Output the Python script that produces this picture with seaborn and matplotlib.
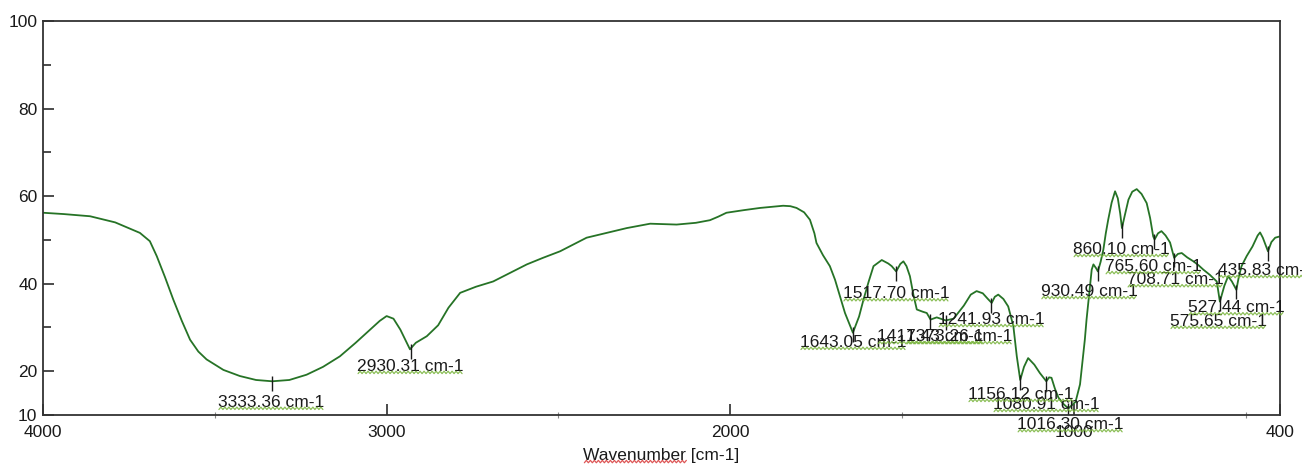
"""
FTIR transmittance spectrum with peak annotations (OMNIC-style screenshot look).
"""
import numpy as np
import pandas as pd
import matplotlib
matplotlib.use("Agg")
import matplotlib.pyplot as plt
from matplotlib.lines import Line2D
from matplotlib.transforms import IdentityTransform
import seaborn as sns

# ==========================================
# DATA
# ==========================================
WAVENUMBER = [
    4000, 3940, 3863, 3790, 3718, 3689, 3669, 3645, 3621, 3596, 3572, 3548, 3524,
    3475, 3427, 3380, 3333, 3283, 3233, 3185, 3136, 3090, 3048, 3020, 3000, 2980,
    2960, 2932, 2915, 2883, 2850, 2820, 2786, 2740, 2690, 2640, 2592, 2545, 2495,
    2455, 2418, 2360, 2301, 2233, 2156, 2100, 2059, 2035, 2011, 1960, 1913, 1846,
    1825, 1807, 1785, 1768, 1755, 1749, 1730, 1710, 1695, 1680, 1666, 1643, 1625,
    1612, 1597, 1583, 1559, 1540, 1530, 1517, 1505, 1496, 1487, 1477, 1467, 1457,
    1440, 1428, 1417, 1399, 1373, 1350, 1320, 1300, 1283, 1265, 1250, 1239, 1230,
    1220, 1205, 1191, 1176, 1166, 1156, 1145, 1133, 1115, 1099, 1080, 1072, 1065,
    1055, 1045, 1030, 1016, 995, 982, 975, 968, 963, 955, 948, 943, 935, 930,
    922, 914, 907, 900, 890, 880, 872, 865, 860, 852, 841, 830, 817, 803, 788,
    778, 769, 765, 755, 745, 733, 720, 708, 697, 686, 670, 652, 637, 623, 604,
    584, 575, 562, 551, 540, 527, 520, 512, 497, 480, 465, 458, 450, 435, 425,
    414, 400,
]
TRANSMITTANCE = [
    56.2, 55.9, 55.4, 54.0, 51.6, 49.7, 46.3, 41.5, 36.4, 31.5, 27.2, 24.5, 22.7,
    20.3, 18.9, 18.0, 17.7, 18.0, 19.2, 21.0, 23.4, 26.5, 29.5, 31.5, 32.6, 32.0,
    29.5, 25.0, 26.5, 28.0, 30.5, 34.5, 37.9, 39.3, 40.5, 42.5, 44.4, 45.9, 47.4,
    49.0, 50.5, 51.6, 52.7, 53.7, 53.5, 53.9, 54.5, 55.3, 56.2, 56.8, 57.3, 57.8,
    57.7, 57.3, 56.3, 54.6, 51.5, 49.3, 46.5, 44.0, 40.9, 37.0, 33.3, 28.8, 32.5,
    36.4, 40.5, 44.0, 45.4, 44.6, 44.0, 42.8, 44.5, 45.1, 44.0, 41.7, 37.5, 34.1,
    33.6, 33.3, 31.8, 32.3, 31.6, 32.0, 35.0, 37.5, 38.3, 37.8, 36.5, 35.6, 37.0,
    37.5, 36.5, 34.8, 30.3, 23.4, 18.0, 21.0, 23.0, 21.5, 19.6, 17.7, 18.6, 18.5,
    16.0, 14.0, 12.5, 11.5, 13.0, 17.0, 22.0, 27.2, 31.8, 38.0, 43.2, 44.4, 43.5, 42.8,
    45.0, 47.8, 51.5, 54.6, 58.5, 61.1, 59.5, 56.0, 52.7, 55.5, 59.2, 61.0, 61.6, 60.5, 58.4,
    55.0, 50.8, 50.1, 51.5, 52.0, 51.0, 49.4, 45.9, 46.8, 47.0, 46.0, 45.1, 44.2, 43.2, 42.0,
    40.5, 35.9, 39.5, 41.7, 40.5, 38.6, 41.5, 44.0, 46.3, 48.5, 51.0, 51.7, 50.5, 47.4, 49.5,
    50.5, 50.8,
]

# picked peaks: position, transmittance at the peak, label text
PEAK_WN = [3333.36, 2930.31, 1643.05, 1517.70, 1417.43, 1373.26, 1241.93, 1156.12,
           1080.91, 1016.30, 930.49, 860.10, 765.60, 708.71, 575.65, 527.44, 435.83]
PEAK_T = [17.7, 25.0, 28.8, 42.8, 31.8, 31.6, 35.6, 18.0,
          17.7, 11.5, 42.8, 52.7, 50.1, 45.9, 35.9, 38.6, 47.4]
PEAK_LABELS = [f"{w:.2f} cm-1" for w in PEAK_WN]

# where the software dropped each label (left edge wavenumber, centre %T)
LABEL_POS = [(3491, 12.9), (3086, 21.1), (1797, 26.6), (1672, 37.7), (1573, 27.9),
             (1488, 27.9), (1395, 31.8), (1308, 14.7), (1235, 12.4), (1165, 7.8),
             (1096, 38.2), (1002, 47.8), (909, 43.9), (845, 40.9), (720, 31.4),
             (668, 34.5), (580, 43.0)]

X_MAJOR = [4000, 3000, 2000, 1000, 400]
X_MINOR = [3500, 2500, 1500, 500]
Y_MAJOR = [10, 20, 40, 60, 80, 100]
Y_MINOR = [30, 50, 70, 90]

LINE_COLOR = "#267326"
INK = "#1a1a1a"


def squiggle(fig, x0, x1, y, color):
    """Word-style wavy underline in figure pixels."""
    xs = np.arange(x0, x1 + 1, 2.0)
    ys = y + np.where(np.arange(len(xs)) % 2 == 0, -1.2, 1.2)
    fig.add_artist(Line2D(xs, ys, transform=IdentityTransform(),
                          color=color, lw=0.9, alpha=0.85))


def main():
    sns.set_theme(style="ticks")
    plt.rcParams["font.family"] = ["Liberation Sans", "DejaVu Sans"]
    plt.rcParams["font.size"] = 12.5

    df = pd.DataFrame({"Wavenumber": WAVENUMBER, "T": TRANSMITTANCE})

    fig = plt.figure(figsize=(13.02, 4.68), dpi=100)
    ax = fig.add_axes([43 / 1302, 1 - 415 / 468, 1237 / 1302, 394 / 468])

    sns.lineplot(data=df, x="Wavenumber", y="T", sort=False, color=LINE_COLOR,
                 lw=1.3, ax=ax)

    ax.set_xlim(4000, 400)
    ax.set_ylim(10, 100)
    ax.set_xticks(X_MAJOR)
    ax.set_xticks(X_MINOR, minor=True)
    ax.set_yticks(Y_MAJOR)
    ax.set_yticks(Y_MINOR, minor=True)
    ax.set_xticklabels([str(v) for v in X_MAJOR])
    ax.set_yticklabels([str(v) for v in Y_MAJOR])
    ax.tick_params(axis="both", which="major", direction="in", length=8,
                   width=1.1, colors=INK, labelsize=12.5)
    ax.tick_params(axis="y", which="major", pad=4)
    ax.tick_params(axis="x", which="major", pad=7)
    ax.tick_params(axis="y", which="minor", direction="in", length=6, width=1.1,
                   colors=INK)
    ax.tick_params(axis="x", which="minor", direction="inout", length=5, width=0.8,
                   colors="#888888")
    for sp in ax.spines.values():
        sp.set_visible(True)
        sp.set_color("#333333")
        sp.set_linewidth(1.3)

    ax.set_xlabel("Wavenumber [cm-1]", fontsize=12.5, color=INK, labelpad=6)
    ax.set_ylabel("")

    # peak markers and labels
    texts = []
    for wn, t, lab, (lx, ly) in zip(PEAK_WN, PEAK_T, PEAK_LABELS, LABEL_POS):
        ax.vlines(wn, t - 2.2, t + 1.2, color=INK, lw=1.0)
        texts.append(ax.text(lx, ly, lab, ha="left", va="center",
                             fontsize=12.5, color=INK, clip_on=False))

    fig.canvas.draw()
    r = fig.canvas.get_renderer()
    for t in texts:
        bb = t.get_window_extent(renderer=r)
        squiggle(fig, bb.x0 + 1, bb.x1 - 1, bb.y0 + 1.5, "#77b33a")
    bb = ax.xaxis.label.get_window_extent(renderer=r)
    squiggle(fig, bb.x0 + 1, bb.x0 + bb.width * 0.66, bb.y0 + 1.5, "#d83a3a")

    fig.savefig("out.png", dpi=100)


if __name__ == "__main__":
    main()
